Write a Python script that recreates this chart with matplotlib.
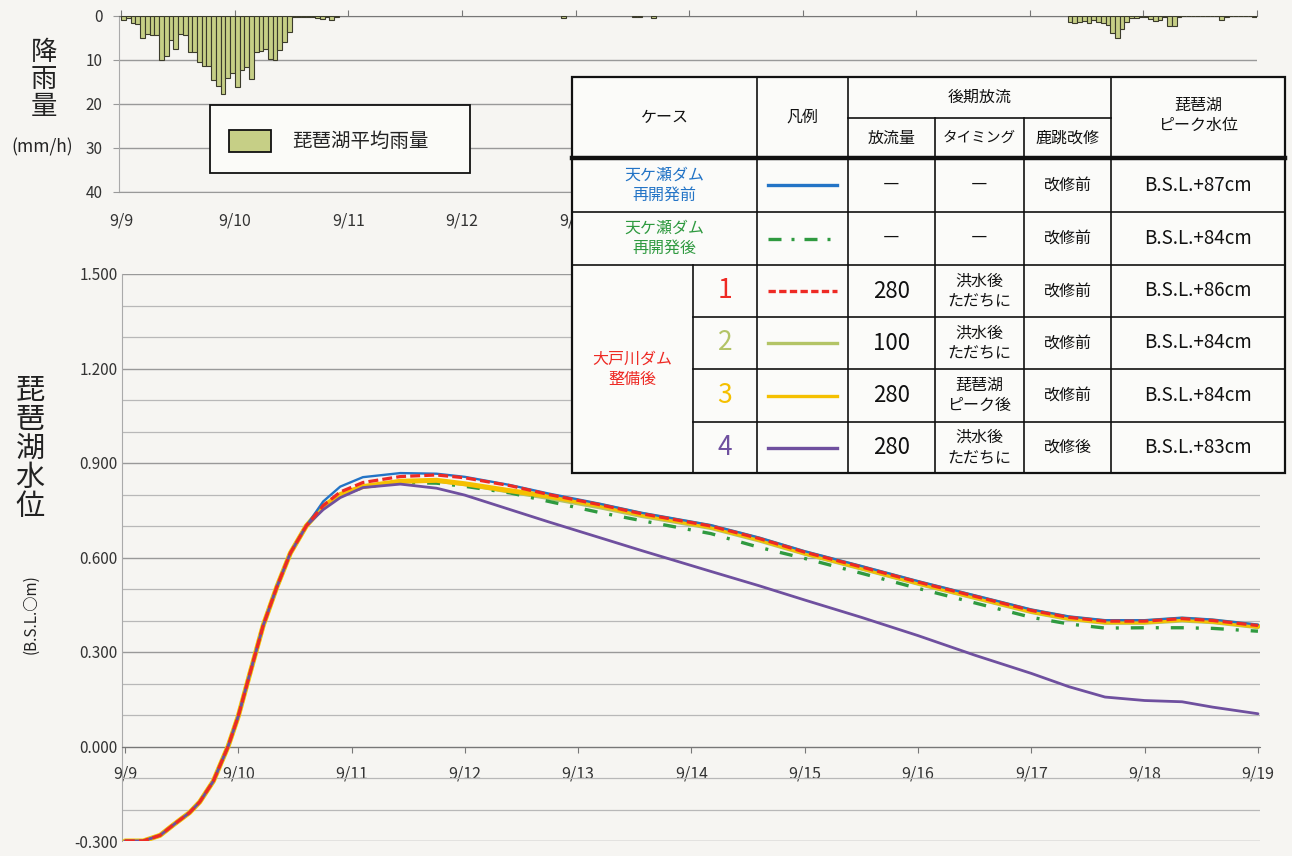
import numpy as np
import matplotlib
matplotlib.use('Agg')
import matplotlib.pyplot as plt
from matplotlib.patches import Rectangle
from matplotlib.lines import Line2D

plt.rcParams['font.family'] = ['Noto Sans CJK JP', 'DejaVu Sans']

# ---------------- data ----------------
day_labels = ['9/9', '9/10', '9/11', '9/12', '9/13', '9/14', '9/15', '9/16', '9/17', '9/18', '9/19']
# in the rainfall panel the labels from 9/14 on lie under the table
rain_day_labels = ['9/9', '9/10', '9/11', '9/12', '9/13', '', '', '', '', '', '']

# hourly rainfall (mm/h), hours counted from 9/9 00:00
rain_a_start = 0
rain_a = [1.0, 0.5, 1.7, 1.9, 5.0, 4.1, 4.3, 4.3, 10.0, 9.2, 5.5, 7.4, 4.0, 4.4, 8.1, 8.1,
          10.4, 11.3, 11.3, 14.5, 15.8, 17.7, 14.1, 13.0, 16.2, 12.2, 11.5, 14.3, 8.1, 8.0,
          7.4, 9.8, 10.0, 7.7, 5.8, 3.6, 0.3, 0.2, 0.2, 0.2, 0.3, 0.4, 0.6, 0.3, 1.0, 0.3]
rain_b_hours = [93, 108, 109, 112]
rain_b = [0.4, 0.2, 0.2, 0.4]
rain_c_start = 200
rain_c = [1.35, 1.7, 1.35, 1.2, 1.5, 1.0, 1.35, 1.7, 2.1, 3.8, 5.0, 2.9, 1.35, 0.45,
          0.45, 0.2, 0.2, 0.6, 1.2, 1.0, 0.2, 2.3, 2.3, 0.2, 0.0, 0.0, 0.0, 0.0, 0.0,
          0.0, 0.0, 0.0, 0.9, 0.3, 0.0, 0.0, 0.0, 0.0, 0.0, 0.3]

# lake level (B.S.L. m), time in days from 9/9 00:00
t_rise = [0.0, 0.16, 0.31, 0.43, 0.57, 0.66, 0.78, 0.91, 1.00, 1.10, 1.22, 1.34, 1.46, 1.60]
v_rise = [-0.300, -0.300, -0.282, -0.248, -0.210, -0.176, -0.110, 0.000, 0.096, 0.228,
          0.384, 0.506, 0.614, 0.700]
t_after = [1.75, 1.90, 2.10, 2.43, 2.75, 3.00, 3.40, 3.74, 4.20, 4.56, 5.17, 5.60, 6.00,
           6.50, 7.00, 7.50, 8.00, 8.33, 8.65, 9.00, 9.33, 9.60, 10.00]
lv_before = [0.778, 0.825, 0.855, 0.868, 0.866, 0.856, 0.830, 0.803, 0.770, 0.742, 0.703,
             0.663, 0.620, 0.573, 0.525, 0.480, 0.435, 0.413, 0.401, 0.401, 0.409, 0.403, 0.387]
lv_after = [0.760, 0.798, 0.822, 0.838, 0.836, 0.826, 0.805, 0.778, 0.742, 0.717, 0.676,
            0.632, 0.597, 0.550, 0.502, 0.456, 0.410, 0.389, 0.376, 0.377, 0.377, 0.375, 0.366]
lv_case1 = [0.765, 0.808, 0.838, 0.857, 0.862, 0.853, 0.828, 0.800, 0.767, 0.739, 0.700,
            0.660, 0.617, 0.570, 0.522, 0.477, 0.432, 0.410, 0.398, 0.398, 0.406, 0.400, 0.384]
lv_case2 = [0.762, 0.800, 0.825, 0.841, 0.843, 0.832, 0.808, 0.788, 0.758, 0.731, 0.693,
            0.653, 0.611, 0.564, 0.516, 0.471, 0.426, 0.404, 0.392, 0.392, 0.399, 0.394, 0.378]
lv_case3 = [0.762, 0.800, 0.825, 0.842, 0.845, 0.834, 0.812, 0.795, 0.765, 0.737, 0.698,
            0.658, 0.615, 0.568, 0.520, 0.475, 0.430, 0.408, 0.396, 0.396, 0.404, 0.398, 0.382]
lv_case4 = [0.752, 0.790, 0.822, 0.833, 0.820, 0.798, 0.752, 0.713, 0.662, 0.622, 0.556,
            0.510, 0.465, 0.410, 0.352, 0.290, 0.232, 0.190, 0.157, 0.146, 0.142, 0.125, 0.104]

# table contents
tbl_release = ['―', '―', '280', '100', '280', '280']
tbl_timing = ['―', '―', '洪水後\nただちに', '洪水後\nただちに', '琵琶湖\nピーク後', '洪水後\nただちに']
tbl_kaisyu = ['改修前', '改修前', '改修前', '改修前', '改修前', '改修後']
tbl_peak = ['B.S.L.+87cm', 'B.S.L.+84cm', 'B.S.L.+86cm', 'B.S.L.+84cm', 'B.S.L.+84cm', 'B.S.L.+83cm']

# ---------------- styles ----------------
C_BLUE = '#2374c6'
C_GREEN = '#2f9a40'
C_RED = '#ee2a24'
C_LGREEN = '#b3c466'
C_YELLOW = '#f5c000'
C_PURPLE = '#6f509f'
series_styles = [
    dict(color=C_LGREEN, lw=2.6, ls='-', z=3),
    dict(color=C_GREEN, lw=2.4, ls=(0, (3.9, 3.6, 0.9, 3.6)), z=4),
    dict(color=C_YELLOW, lw=3.6, ls='-', z=5),
    dict(color=C_BLUE, lw=1.7, ls='-', z=6),
    dict(color=C_PURPLE, lw=2.0, ls='-', z=7),
    dict(color=C_RED, lw=2.3, ls=(0, (3.1, 1.3)), z=8),
]
series_vals = [lv_case2, lv_after, lv_case3, lv_before, lv_case4, lv_case1]

W, H = 1292, 856
fig = plt.figure(figsize=(W / 100, H / 100), dpi=100)
bg = '#f6f5f2'
fig.patch.set_facecolor(bg)


def fax(x0, y0, x1, y1):
    return [x0 / W, 1 - y1 / H, (x1 - x0) / W, (y1 - y0) / H]


TXT = '#333333'
GRID_MAJ = '#999999'
GRID_MIN = '#b8b8b8'

# ---------------- rainfall axes ----------------
axr = fig.add_axes(fax(119, 16, 1257, 192))
axr.set_facecolor(bg)
hours = np.concatenate([rain_a_start + np.arange(len(rain_a)), np.array(rain_b_hours),
                        rain_c_start + np.arange(len(rain_c))])
mm = np.concatenate([rain_a, rain_b, rain_c])
axr.bar(hours / 24.0, mm, width=1 / 24.0, align='edge', color='#c6cf86',
        edgecolor='#3b3b2c', linewidth=0.8, zorder=3)
axr.set_xlim(-0.02, 10.0)
axr.set_ylim(40, 0)
axr.set_yticks([0, 10, 20, 30, 40])
axr.set_xticks(range(len(rain_day_labels)))
axr.set_xticklabels(rain_day_labels)
axr.grid(axis='y', color=GRID_MAJ, lw=1.0, zorder=0)
axr.tick_params(axis='x', top=True, bottom=False, labeltop=False, labelbottom=True,
                direction='out', length=4, color='#777777', pad=11, labelsize=11.5,
                labelcolor=TXT)
axr.tick_params(axis='y', length=4, color='#999999', pad=8, labelsize=11, labelcolor=TXT)
axr.spines['right'].set_visible(False)
axr.spines['top'].set_color('#777777')
axr.spines['bottom'].set_color(GRID_MAJ)
axr.spines['left'].set_color('#aaaaaa')

# ---------------- lake level axes ----------------
ax = fig.add_axes(fax(122, 274, 1260, 841))
ax.set_facecolor(bg)
t_all = np.array(t_rise + t_after)
for vals, st in zip(series_vals, series_styles):
    ax.plot(t_all, np.array(v_rise + vals), color=st['color'], lw=st['lw'],
            linestyle=st['ls'], zorder=st['z'], solid_capstyle='round')
ax.set_xlim(-0.026, 10.018)
ax.set_ylim(-0.3, 1.5)
ax.set_yticks(np.round(np.arange(-0.3, 1.51, 0.3), 3))
ax.set_yticks(np.round(np.arange(-0.3, 1.51, 0.1), 3), minor=True)
ax.yaxis.set_major_formatter(matplotlib.ticker.FormatStrFormatter('%.3f'))
ax.grid(axis='y', which='minor', color=GRID_MIN, lw=0.9, zorder=0)
ax.grid(axis='y', which='major', color=GRID_MAJ, lw=1.0, zorder=0)
ax.set_xticks(range(len(day_labels)))
ax.set_xticklabels(day_labels)
ax.spines['bottom'].set_position(('data', 0))
ax.spines['bottom'].set_color('#777777')
ax.spines['left'].set_color('#aaaaaa')
ax.spines['right'].set_visible(False)
ax.spines['top'].set_visible(False)
ax.tick_params(axis='x', direction='out', length=4, color='#777777', pad=10,
               labelsize=11.5, labelcolor=TXT)
ax.tick_params(axis='y', which='both', length=0, pad=3, labelsize=11, labelcolor=TXT)

# ---------------- overlay (labels, legend, table) ----------------
ao = fig.add_axes([0, 0, 1, 1])
ao.set_xlim(0, W)
ao.set_ylim(H, 0)
ao.axis('off')
ao.patch.set_alpha(0)

ao.text(44, 79, '降\n雨\n量', ha='center', va='center', fontsize=19, linespacing=1.0,
        color='#222222')
ao.text(42, 147, '(mm/h)', ha='center', va='center', fontsize=12.5, color='#222222')
ao.text(30, 449, '琵\n琶\n湖\n水\n位', ha='center', va='center', fontsize=21,
        linespacing=0.95, color='#222222')
ao.text(31, 614, '(B.S.L.○m)', ha='center', va='center', fontsize=11, rotation=90,
        color='#222222')

# rainfall legend
ao.add_patch(Rectangle((210, 105), 260, 68, facecolor='#fbfbf8', edgecolor='#111111', lw=1.3, zorder=5))
ao.add_patch(Rectangle((229, 130), 42, 22, facecolor='#c6cf86', edgecolor='#111111', lw=1.3, zorder=6))
ao.text(292, 141, '琵琶湖平均雨量', ha='left', va='center', fontsize=14, color='#222222', zorder=6)

# table
cx = [572, 693, 757, 848, 935, 1024, 1111, 1285]
ry = [77, 118, 158, 212, 265, 317, 369, 422, 473]
ao.add_patch(Rectangle((cx[0], ry[0]), cx[-1] - cx[0], ry[-1] - ry[0], facecolor='#fbfbf9',
                       edgecolor='#111111', lw=1.6, zorder=5))
LC = '#111111'
Z = 6


def hl(y, x0, x1, lw=1.2):
    ao.add_line(Line2D([x0, x1], [y, y], color=LC, lw=lw, zorder=Z))


def vl(x, y0, y1, lw=1.2):
    ao.add_line(Line2D([x, x], [y0, y1], color=LC, lw=lw, zorder=Z))


hl(ry[1], cx[3], cx[6])
hl(ry[2], cx[0], cx[7], lw=3.2)
hl(ry[3], cx[0], cx[7])
hl(ry[4], cx[0], cx[7])
for y in ry[5:8]:
    hl(y, cx[1], cx[7])
vl(cx[1], ry[4], ry[8])
vl(cx[2], ry[0], ry[8])
vl(cx[3], ry[0], ry[8])
vl(cx[4], ry[1], ry[8])
vl(cx[5], ry[1], ry[8])
vl(cx[6], ry[0], ry[8])


def mid(a, b):
    return (a + b) / 2.0


HFS = 11.5
ao.text(mid(cx[0], cx[2]), mid(ry[0], ry[2]), 'ケース', ha='center', va='center', fontsize=HFS, color='#111111', zorder=Z)
ao.text(mid(cx[2], cx[3]), mid(ry[0], ry[2]), '凡例', ha='center', va='center', fontsize=HFS, color='#111111', zorder=Z)
ao.text(mid(cx[3], cx[6]), mid(ry[0], ry[1]), '後期放流', ha='center', va='center', fontsize=HFS, color='#111111', zorder=Z)
ao.text(mid(cx[3], cx[4]), mid(ry[1], ry[2]), '放流量', ha='center', va='center', fontsize=HFS, color='#111111', zorder=Z)
ao.text(mid(cx[4], cx[5]), mid(ry[1], ry[2]), 'タイミング', ha='center', va='center', fontsize=10.5, color='#111111', zorder=Z)
ao.text(mid(cx[5], cx[6]), mid(ry[1], ry[2]), '鹿跳改修', ha='center', va='center', fontsize=HFS, color='#111111', zorder=Z)
ao.text(mid(cx[6], cx[7]), mid(ry[0], ry[2]) - 2, '琵琶湖\nピーク水位', ha='center', va='center', fontsize=HFS,
        linespacing=1.25, color='#111111', zorder=Z)

ao.text(mid(cx[0], cx[2]), mid(ry[2], ry[3]), '天ケ瀬ダム\n再開発前', ha='center', va='center', fontsize=11.5,
        linespacing=1.25, color=C_BLUE, zorder=Z)
ao.text(mid(cx[0], cx[2]), mid(ry[3], ry[4]), '天ケ瀬ダム\n再開発後', ha='center', va='center', fontsize=11.5,
        linespacing=1.25, color=C_GREEN, zorder=Z)
ao.text(mid(cx[0], cx[1]), mid(ry[4], ry[8]), '大戸川ダム\n整備後', ha='center', va='center', fontsize=11.5,
        linespacing=1.25, color=C_RED, zorder=Z)
case_nums = ['1', '2', '3', '4']
case_cols = [C_RED, C_LGREEN, C_YELLOW, C_PURPLE]
for i, (n, c) in enumerate(zip(case_nums, case_cols)):
    ao.text(mid(cx[1], cx[2]), mid(ry[4 + i], ry[5 + i]), n, ha='center', va='center',
            fontsize=19, color=c, zorder=Z)

legend_styles = [
    dict(color=C_BLUE, lw=2.4, ls='-'),
    dict(color=C_GREEN, lw=2.4, ls=(0, (3.9, 3.0, 0.9, 3.0))),
    dict(color=C_RED, lw=2.4, ls=(0, (2.2, 1.0))),
    dict(color=C_LGREEN, lw=2.4, ls='-'),
    dict(color=C_YELLOW, lw=2.4, ls='-'),
    dict(color=C_PURPLE, lw=2.4, ls='-'),
]
for i in range(6):
    yc = mid(ry[2 + i], ry[3 + i])
    st = legend_styles[i]
    ao.add_line(Line2D([768, 837], [yc, yc], color=st['color'], lw=st['lw'], linestyle=st['ls'], zorder=Z))
    dash = tbl_release[i] == '―'
    ao.text(mid(cx[3], cx[4]), yc, tbl_release[i], ha='center', va='center',
            fontsize=12 if dash else 16, color='#111111', zorder=Z)
    ao.text(mid(cx[4], cx[5]), yc, tbl_timing[i], ha='center', va='center',
            fontsize=12 if tbl_timing[i] == '―' else 11.5,
            linespacing=1.2, color='#111111', zorder=Z)
    ao.text(mid(cx[5], cx[6]), yc, tbl_kaisyu[i], ha='center', va='center', fontsize=11.5,
            color='#111111', zorder=Z)
    ao.text(mid(cx[6], cx[7]), yc, tbl_peak[i], ha='center', va='center', fontsize=13.5,
            color='#111111', zorder=Z)

fig.savefig('out.png', dpi=100, facecolor=bg)
